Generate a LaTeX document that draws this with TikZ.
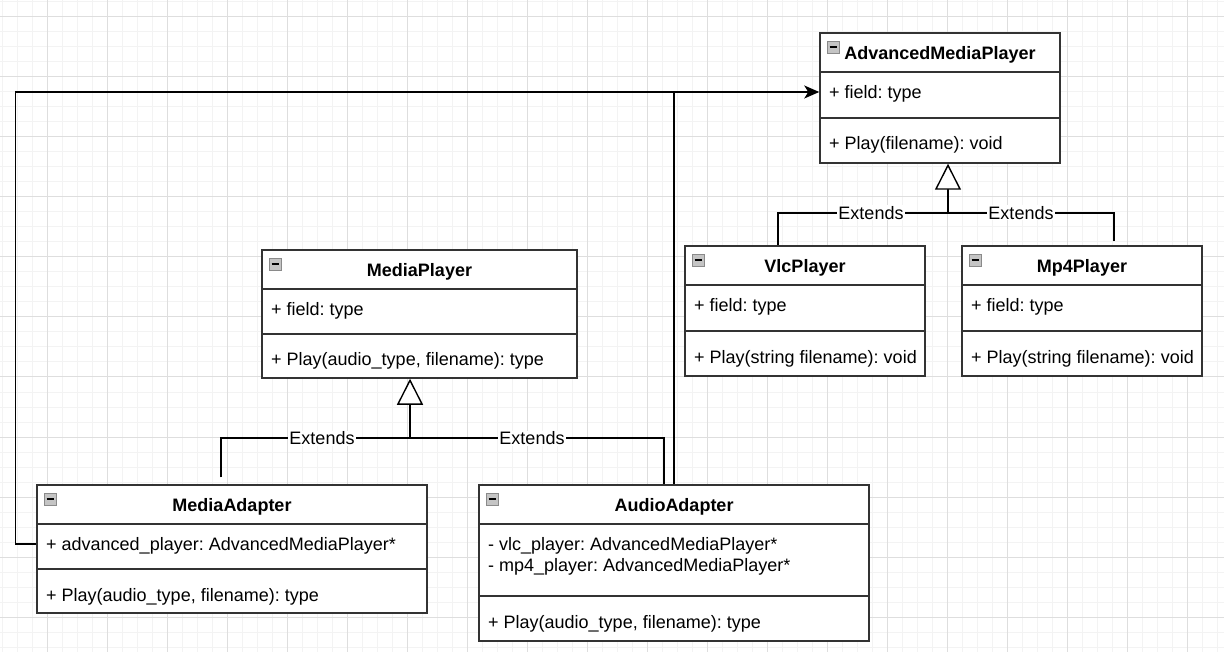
\documentclass[tikz,border=0pt]{standalone}
\usepackage{fontspec}
\setmainfont{Liberation Sans}
\usetikzlibrary{arrows.meta}
\definecolor{minorgrid}{HTML}{F3F3F3}
\definecolor{majorgrid}{HTML}{DEDEDE}
\definecolor{boxline}{HTML}{333333}
\definecolor{icongray}{HTML}{C4C4C4}
\definecolor{iconline}{HTML}{8A8A8A}
\tikzset{
  classbox/.style={draw=boxline, line width=1.5pt, fill=white, inner sep=0pt},
  divider/.style={draw=boxline, line width=1.5pt},
  titletext/.style={font=\fontsize{18pt}{21pt}\selectfont\bfseries, inner sep=0pt, text height=13pt, text depth=0pt},
  membertext/.style={font=\fontsize{18pt}{21pt}\selectfont, inner sep=0pt, anchor=west, text height=13pt, text depth=0pt},
  extlabel/.style={font=\fontsize{18pt}{21pt}\selectfont, fill=white, inner sep=1pt, text height=13pt, text depth=0pt},
  conn/.style={draw=black, line width=1.4pt},
  assoc/.style={conn, -{Stealth[length=15pt, width=13pt, inset=4pt]}},
  genarrow/.style={conn, -{Triangle[open, length=26pt, width=26pt, fill=white]}},
}
\newcommand\umlclass[8]{% name, left, right, top, bottom, second divider y, title, method
  \node[classbox, minimum width={(#3-#2)*1pt}, minimum height={(#5-#4)*1pt}] (#1) at ({(#2+#3)/2},{(#4+#5)/2}) {};
  \draw[divider] (#2,#4+39) -- (#3,#4+39);
  \draw[divider] (#2,#6) -- (#3,#6);
  \node[titletext] (#1-title) at ({(#2+#3)/2},#4+20) {#7};
  \node[membertext] (#1-method) at (#2+9,#6+25.5) {#8};
  \filldraw[fill=icongray, draw=iconline, line width=0.7pt] (#2+7,#4+8) rectangle (#2+19,#4+20);
  \draw[black, line width=1.1pt] (#2+9.5,#4+14) -- (#2+16.5,#4+14);
}
\begin{document}
\frenchspacing
\begin{tikzpicture}[x=1pt, y=-1pt]
\useasboundingbox (0,0) rectangle (1224,652);
\fill[white] (0,0) rectangle (1224,652);
% grid
\foreach \i in {0,...,81} \draw[minorgrid, line width=1pt] ({2+15*\i},0) -- ({2+15*\i},652);
\foreach \j in {0,...,43} \draw[minorgrid, line width=1pt] (0,{2+15*\j}) -- (1224,{2+15*\j});
\foreach \i in {0,...,19} \draw[majorgrid, line width=1pt] ({47+60*\i},0) -- ({47+60*\i},652);
\foreach \j in {0,...,10} \draw[majorgrid, line width=1pt] (0,{17+60*\j}) -- (1224,{17+60*\j});

% classes
\umlclass{amp}{820}{1060}{33}{163}{118}{AdvancedMediaPlayer}{+ Play(filename): void}
\node[membertext] (amp-field) at (829,92) {+ field: type};

\umlclass{vlc}{685}{925}{246}{376}{331}{VlcPlayer}{+ Play(string filename): void}
\node[membertext] (vlc-field) at (694,305) {+ field: type};

\umlclass{mp4}{962}{1202}{246}{376}{331}{Mp4Player}{+ Play(string filename): void}
\node[membertext] (mp4-field) at (971,305) {+ field: type};

\umlclass{mp}{262}{577}{250}{378}{334}{MediaPlayer}{+ Play(audio\_type, filename): type}
\node[membertext] (mp-field) at (271,309) {+ field: type};

\umlclass{ma}{37}{427}{485}{613}{569}{MediaAdapter}{+ Play(audio\_type, filename): type}
\node[membertext] (ma-field) at (46,544) {+ advanced\_player: AdvancedMediaPlayer*};

\umlclass{aa}{479}{869}{485}{641}{596}{AudioAdapter}{+ Play(audio\_type, filename): type}
\node[membertext] (aa-field1) at (488,544) {- vlc\_player: AdvancedMediaPlayer*};
\node[membertext] (aa-field2) at (488,565) {- mp4\_player: AdvancedMediaPlayer*};

% association connectors
\draw[conn] (aa.north) -- (aa.north |- amp-field);
\draw[assoc] (ma.west |- ma-field) -- ++(-21,0) |- (amp.west |- amp-field);

% generalization: AdvancedMediaPlayer
\coordinate (ampjoin) at (948,213);
\draw[conn] ([xshift=-27pt]vlc.north) |- (ampjoin);
\draw[conn] ([xshift=32pt, yshift=4pt]mp4.north) |- (ampjoin);
\draw[genarrow] (ampjoin) -- ([xshift=8pt]amp.south);
\node[extlabel] (ext1) at (871,213) {Extends};
\node[extlabel] (ext2) at (1021,213) {Extends};

% generalization: MediaPlayer
\coordinate (mpjoin) at (410,438);
\draw[conn] ([xshift=-11pt, yshift=7pt]ma.north) |- (mpjoin);
\draw[conn] ([xshift=-10pt]aa.north) |- (mpjoin);
\draw[genarrow] (mpjoin) -- ([xshift=-9.5pt]mp.south);
\node[extlabel] (ext3) at (322,438) {Extends};
\node[extlabel] (ext4) at (532,438) {Extends};
\end{tikzpicture}
\end{document}
